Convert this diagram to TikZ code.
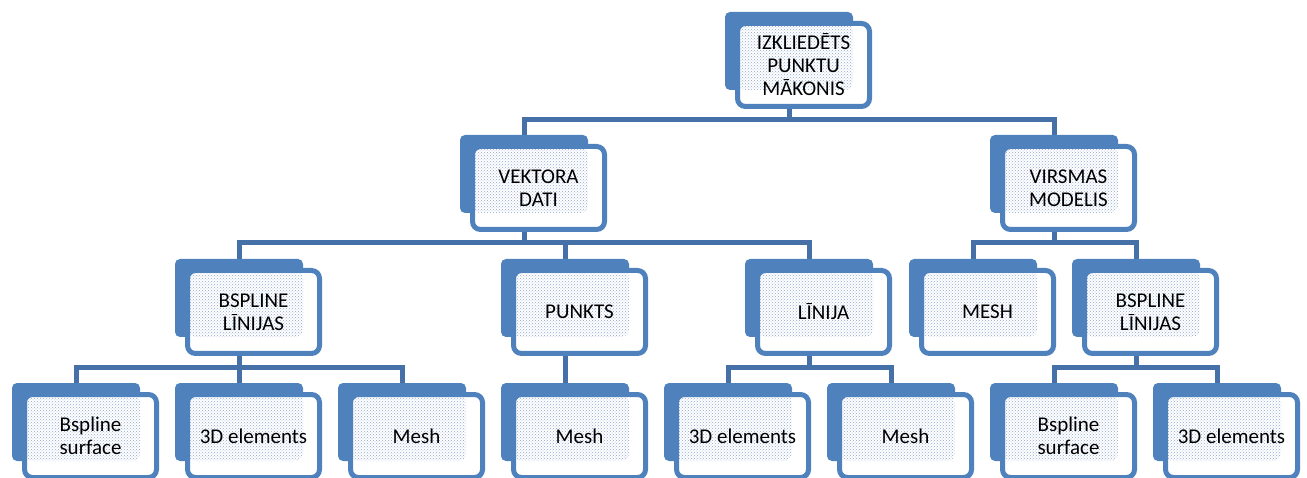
\documentclass[tikz,border=0pt]{standalone}
\usepackage{fontspec}
\setmainfont{Carlito}
\usetikzlibrary{patterns}
\definecolor{boxblue}{HTML}{4F81BD}
\definecolor{linkblue}{HTML}{4671A8}
\definecolor{dotblue}{HTML}{8FA8D0}
\pgfdeclarelayer{bg}
\pgfsetlayers{bg,main}
\tikzset{
  backbox/.style={fill=boxblue, draw=none, rounded corners=5pt, minimum width=128pt, minimum height=78pt, inner sep=0pt},
  frontbox/.style={draw=boxblue, line width=5pt, fill=white, rounded corners=8pt,
    minimum width=132pt, minimum height=83pt, inner sep=0pt, align=center,
    font=\fontsize{21}{23}\selectfont,
    path picture={\fill[pattern=crosshatch dots, pattern color=dotblue]
      (path picture bounding box.north west) rectangle ++(115.5pt,-66.5pt);}},
  conn/.style={draw=linkblue, line width=5pt}
}
\newcommand{\tnode}[4]{%
  \node[backbox] (#1b) at (#2+64,#3+39) {};
  \node[frontbox] (#1) at (#2+78.5,#3+53) {#4};
}
\newcommand{\tlink}[3]{%
  \draw[conn] (#1b.south |- #1.south) -- (#1b.south |- #3) -| (#2b.north);
}
\begin{document}
\begin{tikzpicture}[x=1pt,y=-1pt]
\useasboundingbox (0,0) rectangle (1307,478);
\coordinate (bus1) at (0,120);
\coordinate (bus2) at (0,243);
\coordinate (bus3) at (0,368);
% level 0
\tnode{top}{725}{12}{IZKLIEDĒTS\\PUNKTU\\MĀKONIS}
% level 1
\tnode{vek}{460}{135}{VEKTORA\\DATI}
\tnode{vir}{990}{135}{VIRSMAS\\MODELIS}
% level 2
\tnode{bsa}{175}{259}{BSPLINE\\LĪNIJAS}
\tnode{pun}{501}{259}{PUNKTS}
\tnode{lin}{745}{259}{LĪNIJA}
\tnode{mes}{909}{259}{MESH}
\tnode{bsb}{1072}{259}{BSPLINE\\LĪNIJAS}
% level 3
\tnode{c1}{12}{383}{Bspline\\surface}
\tnode{c2}{175}{383}{3D elements}
\tnode{c3}{338}{383}{Mesh}
\tnode{c4}{501}{383}{Mesh}
\tnode{c5}{664}{383}{3D elements}
\tnode{c6}{827}{383}{Mesh}
\tnode{c7}{990}{383}{Bspline\\surface}
\tnode{c8}{1153}{383}{3D elements}
\begin{pgfonlayer}{bg}
\tlink{top}{vek}{bus1}
\tlink{top}{vir}{bus1}
\tlink{vek}{bsa}{bus2}
\tlink{vek}{pun}{bus2}
\tlink{vek}{lin}{bus2}
\tlink{vir}{mes}{bus2}
\tlink{vir}{bsb}{bus2}
\tlink{bsa}{c1}{bus3}
\tlink{bsa}{c2}{bus3}
\tlink{bsa}{c3}{bus3}
\tlink{pun}{c4}{bus3}
\tlink{lin}{c5}{bus3}
\tlink{lin}{c6}{bus3}
\tlink{bsb}{c7}{bus3}
\tlink{bsb}{c8}{bus3}
\end{pgfonlayer}
\end{tikzpicture}
\end{document}
